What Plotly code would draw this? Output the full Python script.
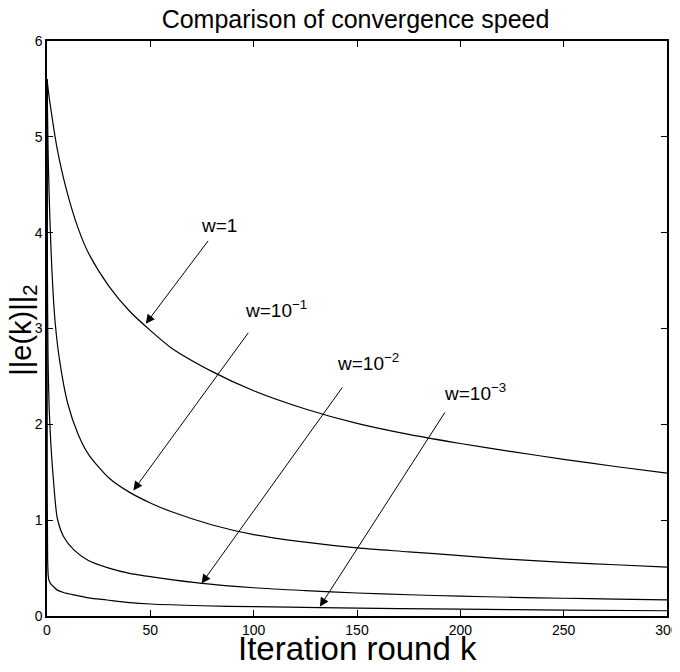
import plotly.graph_objects as go

# iteration round k and error norm, one set per w
k_w1 = [0, 1, 2, 4, 6, 10, 15, 20, 30, 40, 50, 60, 80, 100, 125, 150, 175, 200, 225, 250, 275, 300]
e_w1 = [5.60, 5.42, 5.27, 4.99, 4.76, 4.40, 4.05, 3.79, 3.44, 3.18, 2.98, 2.80, 2.55, 2.35, 2.16, 2.01, 1.895, 1.80, 1.715, 1.635, 1.56, 1.49]

k_w01 = [0, 0.5, 1, 2, 3, 4, 6, 10, 15, 20, 30, 40, 50, 60, 80, 100, 125, 150, 175, 200, 225, 250, 275, 300]
e_w01 = [5.60, 4.90, 4.42, 3.79, 3.35, 3.05, 2.68, 2.22, 1.90, 1.69, 1.44, 1.29, 1.18, 1.09, 0.95, 0.85, 0.77, 0.71, 0.67, 0.63, 0.59, 0.56, 0.535, 0.51]

k_w001 = [0, 0.2, 0.5, 1, 1.5, 2, 3, 5, 8, 13, 20, 30, 40, 55, 75, 100, 125, 150, 175, 200, 225, 250, 275, 300]
e_w001 = [5.60, 3.60, 2.70, 2.20, 1.95, 1.75, 1.45, 1.02, 0.83, 0.69, 0.58, 0.50, 0.445, 0.395, 0.34, 0.295, 0.265, 0.24, 0.222, 0.207, 0.195, 0.185, 0.176, 0.168]

k_w0001 = [0, 0.1, 0.3, 0.6, 1, 2, 3, 5, 8, 13, 20, 29, 40, 50, 75, 100, 132, 170, 200, 250, 300]
e_w0001 = [5.60, 1.50, 0.60, 0.42, 0.37, 0.33, 0.31, 0.27, 0.245, 0.22, 0.19, 0.167, 0.14, 0.125, 0.107, 0.097, 0.088, 0.078, 0.072, 0.062, 0.055]

labels = ["w=1", "w=10<sup>\u22121</sup>", "w=10<sup>\u22122</sup>", "w=10<sup>\u22123</sup>"]
label_k = [83, 111, 155.5, 207]
label_e = [4.07, 3.20, 2.65, 2.34]
tail_k = [78.5, 97.9, 143.4, 193]
tail_e = [3.93, 2.97, 2.40, 2.14]
tip_k = [47.8, 41.8, 74.8, 132]
tip_e = [3.05, 1.31, 0.34, 0.097]

FONT = "Liberation Sans, Arial, sans-serif"

fig = go.Figure()
for kk, ee in [(k_w1, e_w1), (k_w01, e_w01), (k_w001, e_w001), (k_w0001, e_w0001)]:
    fig.add_trace(go.Scatter(x=kk, y=ee, mode="lines",
                             line=dict(color="black", width=1.2, shape="spline", smoothing=0.8),
                             showlegend=False, hoverinfo="skip"))

for i in range(4):
    fig.add_annotation(x=label_k[i], y=label_e[i], text=labels[i], showarrow=False,
                       font=dict(size=19, color="black", family=FONT))
    fig.add_annotation(x=tip_k[i], y=tip_e[i], ax=tail_k[i], ay=tail_e[i],
                       xref="x", yref="y", axref="x", ayref="y", text="",
                       showarrow=True, arrowhead=2, arrowsize=1.8, arrowwidth=1, arrowcolor="black")

# axis labels
fig.add_annotation(x=0.5, y=-0.056, xref="paper", yref="paper", text="Iteration round k",
                   showarrow=False, yanchor="middle", font=dict(size=33, color="black", family=FONT))
fig.add_annotation(x=-0.0387, y=0.496, xref="paper", yref="paper", text="||e(k)||<sub>2</sub>",
                   showarrow=False, textangle=-90, xanchor="center", yanchor="middle",
                   font=dict(size=29, color="black", family=FONT))

axis_style = dict(showline=True, linecolor="black", linewidth=1.5, mirror="ticks",
                  ticks="inside", ticklen=6, tickwidth=1, tickcolor="black",
                  showgrid=False, zeroline=False, automargin=False,
                  tickfont=dict(size=14, color="black", family=FONT))

fig.update_xaxes(range=[0, 300], tickvals=[0, 50, 100, 150, 200, 250, 300], **axis_style)
fig.update_yaxes(range=[0, 6], tickvals=[0, 1, 2, 3, 4, 5, 6], **axis_style)

# page body shifts the figure by 8px, so margins are cut by 8px on the left/top
fig.update_layout(
    width=680, height=664,
    margin=dict(l=39, r=21, t=33, b=56, autoexpand=False),
    paper_bgcolor="white", plot_bgcolor="white",
    title=dict(text="Comparison of convergence speed", xref="paper", x=0.4976, xanchor="center",
               y=1 - 11 / 664, yanchor="middle", font=dict(size=25, color="black", family=FONT)),
)

fig.write_html("out.html")
